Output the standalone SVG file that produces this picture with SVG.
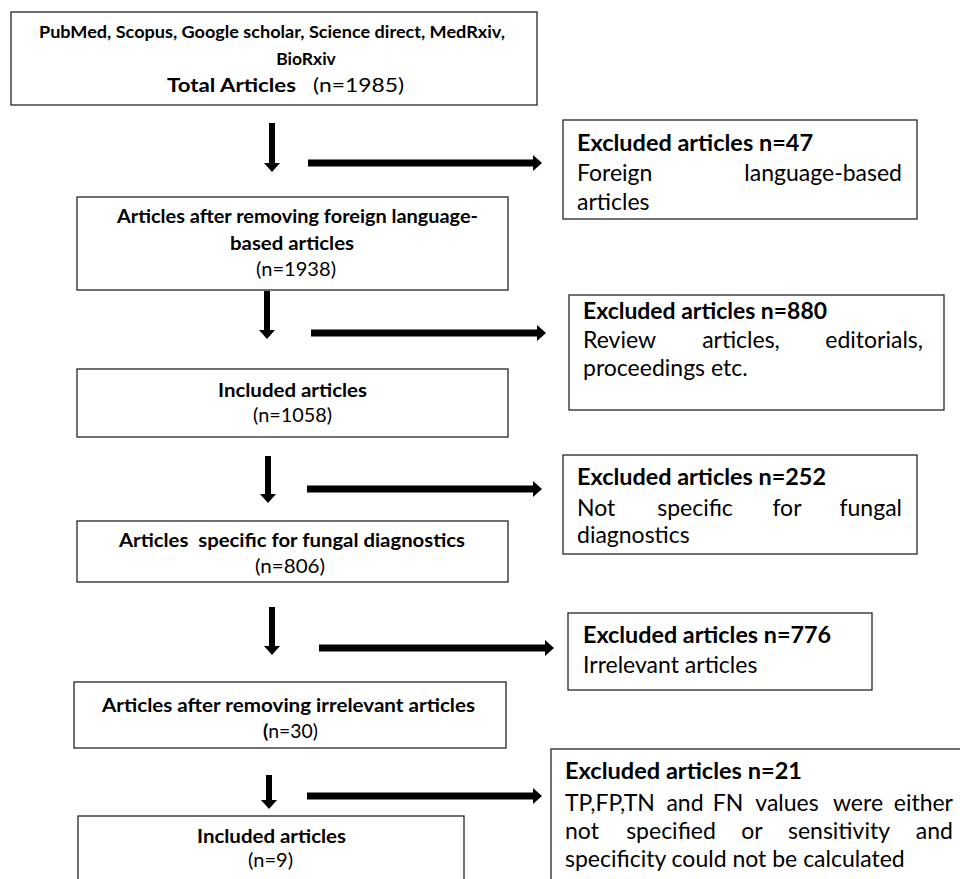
<svg xmlns="http://www.w3.org/2000/svg" width="960" height="879" viewBox="0 0 960 879">
<style>
.box{fill:#fff;stroke:#262626;stroke-width:1.3}
.t{font-family:Lato,"Liberation Sans",sans-serif;fill:#000}
.s{font-size:17.5px}
.l{font-size:19px}
.b{font-weight:bold}
.r{font-size:23px}
.m{text-anchor:middle}
.e{text-anchor:end}
.arr{stroke:#000;stroke-width:7;fill:none;marker-end:url(#head)}
.dn{stroke:#000;stroke-width:6;fill:none;marker-end:url(#head)}
</style>
<defs>
<marker id="head" viewBox="0 0 9 16" refX="0" refY="8" markerWidth="9" markerHeight="16" markerUnits="userSpaceOnUse" orient="auto">
<path d="M0,0 L9,8 L0,16 z" fill="#000"/>
</marker>
</defs>
<rect width="960" height="879" fill="#fff"/>

<g id="connectors">
<line class="dn" x1="272" y1="123" x2="272" y2="163"/>
<line class="arr" x1="308" y1="163" x2="533" y2="163"/>
<line class="dn" x1="267" y1="291" x2="267" y2="330"/>
<line class="arr" x1="311" y1="333" x2="537" y2="333"/>
<line class="dn" x1="268" y1="456" x2="268" y2="494"/>
<line class="arr" x1="307" y1="489" x2="533" y2="489"/>
<line class="dn" x1="272" y1="607" x2="272" y2="646"/>
<line class="arr" x1="319" y1="648" x2="545" y2="648"/>
<line class="dn" x1="269" y1="775" x2="269" y2="800"/>
<line class="arr" x1="307" y1="796" x2="533" y2="796"/>
</g>

<g id="n1">
<rect class="box" x="11" y="12" width="526" height="93"/>
<text class="t s b" x="39" y="38" textLength="466" lengthAdjust="spacingAndGlyphs">PubMed, Scopus, Google scholar, Science direct, MedRxiv,</text>
<text class="t s b m" x="306" y="65">BioRxiv</text>
<text class="t b" style="font-size:18.5px" x="167" y="92" textLength="129" lengthAdjust="spacingAndGlyphs">Total Articles</text>
<text class="t" style="font-size:18.5px" x="313" y="92" textLength="91" lengthAdjust="spacingAndGlyphs">(n=1985)</text>
</g>

<g id="x1">
<rect class="box" x="563" y="120" width="354" height="99"/>
<text class="t r b" x="577" y="151" textLength="236" lengthAdjust="spacingAndGlyphs">Excluded articles n=47</text>
<text class="t r" x="577" y="181">Foreign</text>
<text class="t r e" x="902" y="181">language-based</text>
<text class="t r" x="577" y="210">articles</text>
</g>

<g id="n2">
<rect class="box" x="77" y="197" width="431" height="93"/>
<text class="t l b" x="117" y="223" textLength="361" lengthAdjust="spacingAndGlyphs">Articles after removing foreign language-</text>
<text class="t l b" x="230" y="250" textLength="124" lengthAdjust="spacingAndGlyphs">based articles</text>
<text class="t l" x="256" y="276" textLength="80" lengthAdjust="spacingAndGlyphs">(n=1938)</text>
</g>

<g id="x2">
<rect class="box" x="569" y="295" width="375" height="115"/>
<text class="t r b" x="583" y="319" textLength="244" lengthAdjust="spacingAndGlyphs">Excluded articles n=880</text>
<text class="t r" x="583" y="348">Review</text>
<text class="t r m" x="741" y="348">articles,</text>
<text class="t r e" x="923" y="348">editorials,</text>
<text class="t r" x="583" y="376">proceedings etc.</text>
</g>

<g id="n3">
<rect class="box" x="77" y="369" width="431" height="68"/>
<text class="t l b" x="218" y="397" textLength="149" lengthAdjust="spacingAndGlyphs">Included articles</text>
<text class="t l" x="253" y="422" textLength="79" lengthAdjust="spacingAndGlyphs">(n=1058)</text>
</g>

<g id="x3">
<rect class="box" x="563" y="455" width="354" height="99"/>
<text class="t r b" x="577" y="485" textLength="249" lengthAdjust="spacingAndGlyphs">Excluded articles n=252</text>
<text class="t r" x="577" y="516">Not</text>
<text class="t r m" x="695" y="516">specific</text>
<text class="t r m" x="787" y="516">for</text>
<text class="t r e" x="902" y="516">fungal</text>
<text class="t r" x="577" y="543">diagnostics</text>
</g>

<g id="n4">
<rect class="box" x="77" y="521" width="431" height="61"/>
<text class="t l b" x="119" y="547" textLength="346" lengthAdjust="spacingAndGlyphs" xml:space="preserve">Articles  specific for fungal diagnostics</text>
<text class="t l" x="255" y="573" textLength="70" lengthAdjust="spacingAndGlyphs">(n=806)</text>
</g>

<g id="x4">
<rect class="box" x="568" y="613" width="304" height="77"/>
<text class="t r b" x="583" y="643" textLength="248" lengthAdjust="spacingAndGlyphs">Excluded articles n=776</text>
<text class="t r" x="583" y="673">Irrelevant articles</text>
</g>

<g id="n5">
<rect class="box" x="74" y="682" width="432" height="66"/>
<text class="t l b" x="102" y="712" textLength="373" lengthAdjust="spacingAndGlyphs">Articles after removing irrelevant articles</text>
<text class="t l" x="263" y="738" textLength="55" lengthAdjust="spacingAndGlyphs"><tspan class="b">(</tspan>n=30)</text>
</g>

<g id="x5">
<rect class="box" x="551" y="749" width="420" height="140"/>
<text class="t r b" x="565" y="779" textLength="237" lengthAdjust="spacingAndGlyphs">Excluded articles n=21</text>
<text class="t r" x="565" y="811">TP,FP,TN</text>
<text class="t r m" x="685" y="811">and</text>
<text class="t r m" x="728" y="811">FN</text>
<text class="t r m" x="787" y="811">values</text>
<text class="t r m" x="858" y="811">were</text>
<text class="t r e" x="953" y="811">either</text>
<text class="t r" x="565" y="839">not</text>
<text class="t r m" x="671" y="839">specified</text>
<text class="t r m" x="752" y="839">or</text>
<text class="t r m" x="839" y="839">sensitivity</text>
<text class="t r e" x="953" y="839">and</text>
<text class="t r" x="565" y="867">specificity could not be calculated</text>
</g>

<g id="n6">
<rect class="box" x="78" y="816" width="386" height="80"/>
<text class="t l b" x="197" y="843" textLength="149" lengthAdjust="spacingAndGlyphs">Included articles</text>
<text class="t l" x="248" y="867" textLength="45" lengthAdjust="spacingAndGlyphs">(n=9)</text>
</g>
</svg>
